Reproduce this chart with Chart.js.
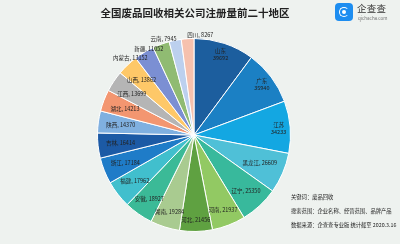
<!DOCTYPE html>
<html><head><meta charset="utf-8">
<script src="https://cdn.jsdelivr.net/npm/chart.js@4"></script>
<style>
html,body{margin:0;padding:0;background:#eef2ef;}
#wrap{position:relative;width:400px;height:244px;background:#eef2ef;overflow:hidden;font-family:"Noto Sans CJK SC","Noto Sans",sans-serif;}
#c{position:absolute;left:0;top:0;}
#title{position:absolute;left:0;width:390px;top:6px;text-align:center;font-weight:bold;font-size:10.5px;color:#222;line-height:14px;}
#logo{position:absolute;left:335px;top:3px;width:18px;height:18px;border-radius:4px;background:#1d8df0;}
#logo .ring{position:absolute;left:3.5px;top:3.5px;width:8px;height:8px;border:1.6px solid #fff;border-radius:50%;border-right-color:transparent;}
#logo .dot{position:absolute;left:7.3px;top:7.3px;width:4px;height:4px;background:#fff;border-radius:50%;}
#brand{position:absolute;left:357px;top:2px;font-size:9.5px;color:#333;line-height:12px;letter-spacing:0.2px;}
#site{position:absolute;left:358px;top:15px;font-size:4.5px;color:#777;line-height:6px;}
.note{position:absolute;left:291px;font-size:5.3px;color:#222;line-height:7px;white-space:nowrap;}
</style></head>
<body>
<div id="wrap">
<canvas id="c" width="400" height="244"></canvas>
<div id="title">全国废品回收相关公司注册量前二十地区</div>
<div id="logo"><div class="ring"></div><div class="dot"></div></div>
<div id="brand">企查查</div>
<div id="site">qichacha.com</div>
<div class="note" style="top:194px">关键词：废品回收</div>
<div class="note" style="top:208px">搜索范围：企业名称、经营范围、品牌产品</div>
<div class="note" style="top:222px">数据来源：企查查专业版 统计截至 2020.3.16</div>
</div>
<script>
const regions = ["山东","广东","江苏","黑龙江","辽宁","河南","河北","湖南","安徽","福建","浙江","吉林","陕西","湖北","江西","山西","内蒙古","新疆","云南","四川"];
const counts = [39692,35940,34233,26609,25350,21937,21456,19284,18927,17962,17184,16414,14370,14213,13699,13862,13152,11052,7945,8267];
const sliceColors = ["#1c5e9e","#1b80c4","#13a7e2","#4fc0d7","#38b99c","#92c963","#5fa141","#a9cb90","#3bba97","#41bfcd","#1f7cc8","#1c5aa5","#80b0e0","#f39670","#b5b5b5","#fec868","#7b8fd3","#90bb72","#bcd0ee","#f6c1ae"];

const labelPlugin = {
  id: 'sliceLabels',
  afterDatasetsDraw(chart) {
    const ctx = chart.ctx;
    const meta = chart.getDatasetMeta(0);
    const total = counts.reduce((a, b) => a + b, 0);
    ctx.save();
    ctx.font = '5.5px "Noto Sans CJK SC"';
    ctx.fillStyle = '#222';
    ctx.textBaseline = 'middle';
    const placed = [];
    const overlaps = (b) => placed.some(q => b.x0 < q.x1 && b.x1 > q.x0 && b.y0 < q.y1 && b.y1 > q.y0);
    meta.data.forEach((arc, i) => {
      const p = arc.getProps(['x', 'y', 'startAngle', 'endAngle', 'outerRadius']);
      const mid = (p.startAngle + p.endAngle) / 2;
      const dx = Math.cos(mid), dy = Math.sin(mid);
      const R = p.outerRadius;
      const frac = counts[i] / total;
      let deg = (mid + Math.PI / 2) * 180 / Math.PI;
      deg = ((deg % 360) + 360) % 360;
      if (frac > 0.08) {
        const r = 0.88 * R;
        const cx = p.x + dx * r, cy = p.y + dy * r;
        ctx.textAlign = 'center';
        ctx.fillText(regions[i], cx, cy - 3.5);
        ctx.fillText(String(counts[i]), cx, cy + 3.5);
        return;
      }
      const txt = regions[i] + ', ' + counts[i];
      const w = ctx.measureText(txt).width;
      if (frac >= 0.034) {
        const ext = Math.abs(dx) * w / 2 + Math.abs(dy) * 3.5;
        const r = 0.92 * R - ext;
        const cx = p.x + dx * r, cy = p.y + dy * r;
        ctx.textAlign = 'center';
        ctx.fillText(txt, cx, cy);
        placed.push({x0: cx - w / 2, x1: cx + w / 2, y0: cy - 4.5, y1: cy + 4.5});
        return;
      }
      if (deg > 352) {
        const r = R + 4;
        const ax = p.x + dx * r, ay = p.y + dy * r;
        ctx.textAlign = 'left';
        ctx.fillText(txt, ax, ay);
        placed.push({x0: ax, x1: ax + w, y0: ay - 4.5, y1: ay + 4.5});
        return;
      }
      const r = 0.93 * R;
      const ax = p.x + dx * r;
      let ay = p.y + dy * r;
      let box = {x0: ax - w, x1: ax, y0: ay - 4.5, y1: ay + 4.5};
      let guard = 0;
      while (overlaps(box) && guard < 40) { ay -= 1; box = {x0: ax - w, x1: ax, y0: ay - 4.5, y1: ay + 4.5}; guard++; }
      ctx.textAlign = 'right';
      ctx.fillText(txt, ax, ay);
      placed.push(box);
    });
    ctx.restore();
  }
};

new Chart(document.getElementById('c'), {
  type: 'pie',
  data: {
    labels: regions,
    datasets: [{
      data: counts,
      backgroundColor: sliceColors,
      borderColor: '#ffffff',
      borderWidth: 1
    }]
  },
  options: {
    responsive: false,
    animation: false,
    layout: {padding: {top: 38, bottom: 12, left: 97, right: 109}},
    plugins: {legend: {display: false}, title: {display: false}, tooltip: {enabled: false}}
  },
  plugins: [labelPlugin]
});
</script>
</body></html>
